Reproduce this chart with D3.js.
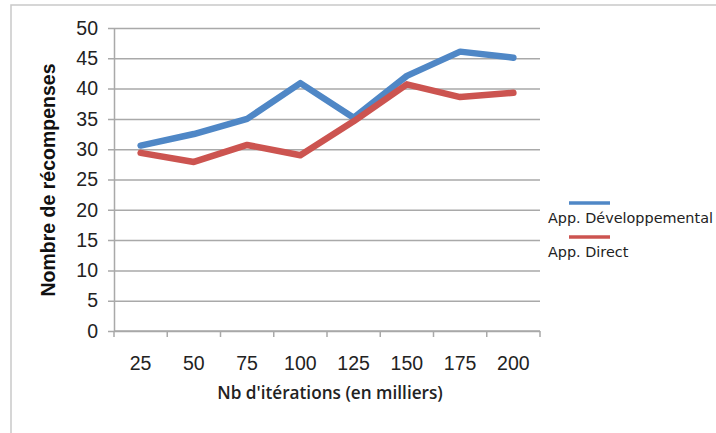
<!DOCTYPE html>
<html>
<head>
<meta charset="utf-8">
<script src="https://cdn.jsdelivr.net/npm/d3@7"></script>
<style>
	body { margin: 0; background: #fff; }
	svg { display: block; }
</style>
</head>
<body>
<div id="chart"></div>
<script>
	// x categories (thousands of iterations)
	var iterations = ['25', '50', '75', '100', '125', '150', '175', '200'];
	// series
	var devValues = [30.6, 32.5, 35.0, 40.9, 35.2, 42.1, 46.1, 45.1];
	var directValues = [29.4, 27.9, 30.7, 29.0, 34.6, 40.7, 38.6, 39.3];
	var yTicks = [0, 5, 10, 15, 20, 25, 30, 35, 40, 45, 50];
	var seriesNames = ['App. Développemental', 'App. Direct'];

	var width = 716;
	var height = 433;
	var margin = { top: 28, left: 114, right: 176, bottom: 102 };

	var colors = ['#4f87c6', '#cc5450'];
	var gridColor = '#a9a9a9';

	var svg = d3.select('#chart')
		.append('svg')
		.attr('width', width)
		.attr('height', height);

	// outer frame (runs off the right and bottom of the picture)
	svg.append('rect')
		.attr('x', 11)
		.attr('y', 5)
		.attr('width', width + 20)
		.attr('height', height + 20)
		.attr('fill', 'none')
		.attr('stroke', '#c9c9c9')
		.attr('stroke-width', 1.5);

	var x = d3.scaleBand()
		.domain(iterations)
		.range([margin.left, width - margin.right]);

	var y = d3.scaleLinear()
		.domain([0, 50])
		.range([height - margin.bottom, margin.top]);

	// horizontal gridlines with small ticks left of the axis
	var yAxis = d3.axisLeft(y)
		.tickValues(yTicks)
		.tickSize(-(width - margin.right - margin.left))
		.tickSizeOuter(0)
		.tickPadding(16);

	var gy = svg.append('g')
		.attr('transform', 'translate(' + margin.left + ',0)')
		.call(yAxis);
	gy.select('.domain').attr('stroke', gridColor).attr('stroke-width', 1.5);
	gy.selectAll('.tick line')
		.attr('x1', -6)
		.attr('stroke', gridColor)
		.attr('stroke-width', 1.5);
	gy.selectAll('.tick text')
		.attr('font-family', 'Liberation Sans, Arial, sans-serif')
		.attr('font-size', '19.5px')
		.attr('fill', '#222');

	// x axis: ticks on category boundaries
	var boundaries = iterations.map(function(d) { return x(d); }).concat([x.range()[1]]);
	var gx = svg.append('g')
		.attr('transform', 'translate(0,' + y(0) + ')');
	gx.append('line')
		.attr('x1', x.range()[0])
		.attr('x2', x.range()[1])
		.attr('stroke', gridColor)
		.attr('stroke-width', 1.5);
	gx.selectAll('line.tk')
		.data(boundaries)
		.enter()
		.append('line')
		.attr('class', 'tk')
		.attr('x1', function(d) { return d; })
		.attr('x2', function(d) { return d; })
		.attr('y1', 0)
		.attr('y2', 6)
		.attr('stroke', gridColor)
		.attr('stroke-width', 1.5);
	gx.selectAll('text')
		.data(iterations)
		.enter()
		.append('text')
		.attr('x', function(d) { return x(d) + x.bandwidth() / 2; })
		.attr('y', 39)
		.attr('text-anchor', 'middle')
		.attr('font-family', 'Liberation Sans, Arial, sans-serif')
		.attr('font-size', '19.5px')
		.attr('fill', '#222')
		.text(function(d) { return d; });

	// axis titles
	svg.append('text')
		.attr('x', 330)
		.attr('y', 399)
		.attr('text-anchor', 'middle')
		.attr('font-family', 'Open Sans, sans-serif')
		.attr('font-weight', 600)
		.attr('font-size', '17.2px')
		.attr('fill', '#222')
		.text("Nb d'itérations (en milliers)");

	svg.append('text')
		.attr('transform', 'translate(55,' + 180 + ') rotate(-90)')
		.attr('text-anchor', 'middle')
		.attr('font-family', 'Liberation Sans, Arial, sans-serif')
		.attr('font-weight', 'bold')
		.attr('font-size', '19.5px')
		.attr('fill', '#111')
		.text('Nombre de récompenses');

	// lines
	var line = d3.line()
		.x(function(d, i) { return x(iterations[i]) + x.bandwidth() / 2; })
		.y(function(d) { return y(d); });

	[devValues, directValues].forEach(function(vals, k) {
		svg.append('path')
			.datum(vals)
			.attr('d', line)
			.attr('fill', 'none')
			.attr('stroke', colors[k])
			.attr('stroke-width', 6.5)
			.attr('stroke-linejoin', 'round')
			.attr('stroke-linecap', 'round');
	});

	// legend
	var legend = svg.append('g').attr('transform', 'translate(548,203)');
	seriesNames.forEach(function(name, k) {
		var g = legend.append('g').attr('transform', 'translate(0,' + (k * 34) + ')');
		g.append('line')
			.attr('x1', 21)
			.attr('x2', 62)
			.attr('stroke', colors[k])
			.attr('stroke-width', 3.5);
		g.append('text')
			.attr('x', 0)
			.attr('y', 20)
			.attr('font-family', 'DejaVu Sans, sans-serif')
			.attr('font-size', '14.4px')
			.attr('fill', '#222')
			.text(name);
	});
</script>
</body>
</html>
